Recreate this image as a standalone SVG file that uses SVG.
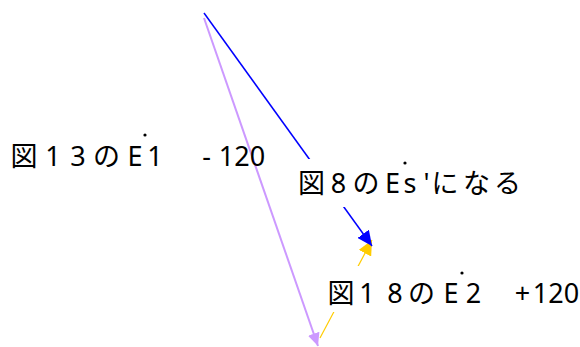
<svg xmlns="http://www.w3.org/2000/svg" width="580" height="347" viewBox="0 0 580 347">
<style>
.lbl{font-family:"Noto Sans","Noto Sans CJK JP",sans-serif;font-size:27px;fill:#000;text-anchor:middle}
.dot{fill:#000}
.bg{fill:#fff;stroke:none}
</style>
<defs>
<marker id="ab" markerUnits="userSpaceOnUse" markerWidth="16" markerHeight="14" refX="15" refY="7" orient="auto"><path d="M0,0 L15,7 L0,14 z" fill="#0000ff"/></marker>
<marker id="ap" markerUnits="userSpaceOnUse" markerWidth="14" markerHeight="12" refX="13" refY="6" orient="auto"><path d="M0,0 L13,6 L0,12 z" fill="#cc99ff"/></marker>
<marker id="ay" markerUnits="userSpaceOnUse" markerWidth="16" markerHeight="14" refX="15" refY="7" orient="auto"><path d="M0,0 L15,7 L0,14 z" fill="#ffcc00"/></marker>
</defs>
<rect width="580" height="347" fill="#fff"/>
<g id="connectors" fill="none">
<line x1="204" y1="18" x2="318" y2="346" stroke="#cc99ff" stroke-width="2" marker-end="url(#ap)"/>
<line x1="320" y1="338" x2="372" y2="240" stroke="#ffcc00" stroke-width="1.2" marker-end="url(#ay)"/>
<line x1="204" y1="13" x2="372" y2="246" stroke="#0000ff" stroke-width="1.5" marker-end="url(#ab)"/>
</g>
<g id="label-e1">
<text class="lbl" y="166"><tspan x="24">図</tspan><tspan x="53">1</tspan><tspan x="78">3</tspan><tspan x="106.5">の</tspan><tspan x="135">E</tspan><tspan x="155">1</tspan><tspan x="206.5">-</tspan><tspan x="242">120</tspan></text>
<circle class="dot" cx="145" cy="135" r="1.6"/>
</g>
<g id="label-es">
<rect class="bg" x="297" y="159" width="226" height="48"/>
<text class="lbl" y="193"><tspan x="311.5">図</tspan><tspan x="338.5">8</tspan><tspan x="366">の</tspan><tspan x="392.5">E</tspan><tspan x="410">s</tspan><tspan x="426.5">'</tspan><tspan x="445">に</tspan><tspan x="476.5">な</tspan><tspan x="507.5">る</tspan></text>
<circle class="dot" cx="405" cy="163" r="1.6"/>
</g>
<g id="label-e2">
<rect class="bg" x="325" y="266" width="255" height="46"/>
<text class="lbl" y="303"><tspan x="341">図</tspan><tspan x="367">1</tspan><tspan x="395">8</tspan><tspan x="421.5">の</tspan><tspan x="451">E</tspan><tspan x="473.5">2</tspan><tspan x="522.5">+</tspan><tspan x="556">120</tspan></text>
<circle class="dot" cx="462" cy="273" r="1.6"/>
</g>
</svg>
